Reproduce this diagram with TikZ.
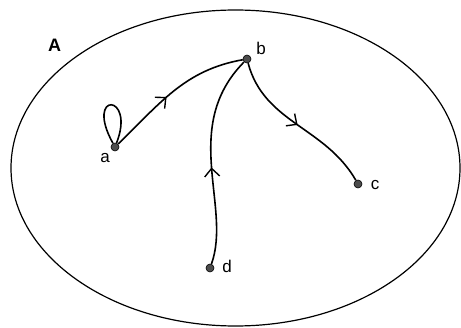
\documentclass[tikz,border=0pt]{standalone}
\usepackage{fontspec}
\setmainfont{Liberation Sans}
\usetikzlibrary{arrows.meta, decorations.markings}

\tikzset{
    vertex/.style={circle, fill=black!70, draw=black, line width=0.6pt, inner sep=0pt, minimum size=8pt},
    lbl/.style={inner sep=0pt, font=\fontsize{17}{19}\selectfont},
    edge/.style={line width=1.6pt},
    midarrow/.style={postaction={decorate}, decoration={markings,
        mark=at position #1 with {\arrow[line width=1.4pt]{Straight Barb[length=8pt,width=15pt]}}}}
}

\begin{document}
\begin{tikzpicture}[x=1pt, y=1pt]
    \useasboundingbox (0,0) rectangle (461,327);
    \draw[line width=1.2pt] (235.5,159) ellipse (224.5 and 158);
    \node[lbl, font=\fontsize{18}{20}\selectfont\bfseries] (setA) at (54.5,282) {A};
    %
    \node[vertex] (a) at (115,180) {};
    \node[vertex] (b) at (247,268) {};
    \node[vertex] (c) at (358,143) {};
    \node[vertex] (d) at (210,59) {};
    %
    \node[lbl] (la) at (105,169) {a};
    \node[lbl] (lb) at (261,279) {b};
    \node[lbl] (lc) at (375,142) {c};
    \node[lbl] (ld) at (227,61) {d};
    %
    \draw[edge] (a) .. controls (84,236) and (136,234) .. (a);
    \draw[edge, midarrow=0.44] (a) to[out=44, in=190] (b);
    \draw[edge, midarrow=0.5] (b) to[out=-75, in=120] (c);
    \draw[edge, midarrow=0.46] (d) .. controls (232,120) and (180,200) .. (b);
\end{tikzpicture}
\end{document}
